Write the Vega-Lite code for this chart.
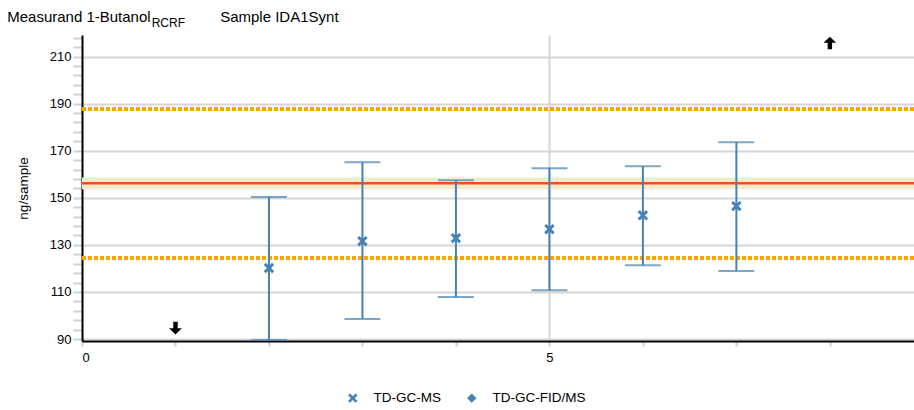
{
  "$schema": "https://vega.github.io/schema/vega-lite/v6.json",
  "width": 832,
  "height": 306,
  "autosize": {"type": "none"},
  "padding": {"left": 82, "top": 35, "right": 0, "bottom": 69},
  "background": "white",
  "config": {
    "view": {"stroke": null},
    "font": "Liberation Sans",
    "axis": {"labelFont": "Liberation Sans", "titleFont": "Liberation Sans", "labelColor": "#000", "titleColor": "#000", "labelFontSize": 13, "labelOverlap": false}
  },
  "datasets": {
    "points": [
      {"x": 2, "value": 121.0, "low": 90.4, "high": 151.2, "method": "TD-GC-MS"},
      {"x": 3, "value": 132.4, "low": 99.3, "high": 165.9, "method": "TD-GC-MS"},
      {"x": 4, "value": 133.7, "low": 108.7, "high": 158.3, "method": "TD-GC-MS"},
      {"x": 5, "value": 137.5, "low": 111.6, "high": 163.4, "method": "TD-GC-MS"},
      {"x": 6, "value": 143.4, "low": 122.2, "high": 164.2, "method": "TD-GC-MS"},
      {"x": 7, "value": 147.3, "low": 119.7, "high": 174.4, "method": "TD-GC-MS"}
    ],
    "refs": [{"ref": 157.0, "bandLow": 154.5, "bandHigh": 159.5, "limLow": 125.3, "limHigh": 188.6}],
    "arrows": [
      {"x": 1, "y": 95.5, "dir": "down"},
      {"x": 8, "y": 216.6, "dir": "up"}
    ],
    "titles": [
      {"part": "main", "text": "Measurand 1-Butanol"},
      {"part": "sub", "text": "RCRF"},
      {"part": "sample", "text": "Sample IDA1Synt"}
    ]
  },
  "layer": [
    {
      "data": {"name": "refs"},
      "mark": {"type": "rect", "color": "#f5ebcc"},
      "encoding": {
        "y": {"field": "bandLow", "type": "quantitative", "scale": {"domain": [90, 220], "nice": false, "zero": false},
          "axis": {
            "values": [90,94,98,102,106,110,114,118,122,126,130,134,138,142,146,150,154,158,162,166,170,174,178,182,186,190,194,198,202,206,210,214,218],
            "tickCount": 100,
            "labelExpr": "(datum.value - 90) % 20 == 0 ? datum.label : ''",
            "format": "d",
            "labelOverlap": false,
            "grid": true,
            "gridColor": "#d6d6d6",
            "gridWidth": 2,
            "gridOpacity": {"condition": {"test": "(datum.value - 90) % 20 == 0", "value": 1}, "value": 0},
            "tickColor": "#cfcfcf",
            "tickSize": 9,
            "tickWidth": 2,
            "tickOffset": -2,
            "domainColor": "#000",
            "domainWidth": 2,
            "labelPadding": 2,
            "title": "ng/sample",
            "titleFontSize": 13.5,
            "titleFontWeight": "normal",
            "titlePadding": 19
          }},
        "y2": {"field": "bandHigh"},
        "x": {"datum": 0, "type": "quantitative", "scale": {"domain": [0, 8.9], "nice": false, "zero": false},
          "axis": {
            "values": [0,1,2,3,4,5,6,7,8],
            "tickCount": 100,
            "labelExpr": "datum.value % 5 == 0 ? datum.label : ''",
            "format": "d",
            "labelOverlap": false,
            "grid": true,
            "gridColor": "#d6d6d6",
            "gridWidth": 2,
            "gridOpacity": {"condition": {"test": "datum.value == 5", "value": 1}, "value": 0},
            "tickColor": "#cfcfcf",
            "tickSize": 5,
            "tickWidth": 2,
            "domainColor": "#000",
            "domainWidth": 2,
            "labelPadding": 5,
            "title": null
          }},
        "x2": {"datum": 8.9}
      }
    },
    {
      "data": {"name": "refs"},
      "mark": {"type": "rule", "color": "#ff4a12", "strokeWidth": 2.5},
      "encoding": {"y": {"field": "ref", "type": "quantitative"}}
    },
    {
      "data": {"name": "refs"},
      "mark": {"type": "rule", "color": "#ffa500", "strokeWidth": 4, "strokeDash": [4, 2]},
      "encoding": {"y": {"field": "limLow", "type": "quantitative"}}
    },
    {
      "data": {"name": "refs"},
      "mark": {"type": "rule", "color": "#ffa500", "strokeWidth": 4, "strokeDash": [4, 2]},
      "encoding": {"y": {"field": "limHigh", "type": "quantitative"}}
    },
    {
      "data": {"name": "points"},
      "mark": {"type": "rule", "color": "#4682b4", "strokeWidth": 2},
      "encoding": {
        "x": {"field": "x", "type": "quantitative"},
        "y": {"field": "low", "type": "quantitative"},
        "y2": {"field": "high"}
      }
    },
    {
      "data": {"name": "points"},
      "mark": {"type": "tick", "color": "#4682b4", "thickness": 2, "size": 36, "orient": "horizontal"},
      "encoding": {
        "x": {"field": "x", "type": "quantitative"},
        "y": {"field": "low", "type": "quantitative"}
      }
    },
    {
      "data": {"name": "points"},
      "mark": {"type": "tick", "color": "#4682b4", "thickness": 2, "size": 36, "orient": "horizontal"},
      "encoding": {
        "x": {"field": "x", "type": "quantitative"},
        "y": {"field": "high", "type": "quantitative"}
      }
    },
    {
      "data": {"name": "points"},
      "mark": {"type": "point", "filled": true, "color": "#4682b4", "opacity": 1, "size": 110},
      "encoding": {
        "x": {"field": "x", "type": "quantitative"},
        "y": {"field": "value", "type": "quantitative"},
        "shape": {"field": "method", "type": "nominal",
          "scale": {"domain": ["TD-GC-MS", "TD-GC-FID/MS"], "range": ["M-1,-0.6 L-0.6,-1 L0,-0.4 L0.6,-1 L1,-0.6 L0.4,0 L1,0.6 L0.6,1 L0,0.4 L-0.6,1 L-1,0.6 L-0.4,0 Z", "diamond"]},
          "legend": {
            "title": null,
            "orient": "none",
            "direction": "horizontal",
            "legendX": 264,
            "legendY": 356,
            "labelFontSize": 13.5,
            "labelColor": "#000",
            "labelFont": "Liberation Sans",
            "symbolSize": 90,
            "symbolFillColor": "#4682b4",
            "symbolStrokeColor": "#4682b4",
            "symbolStrokeWidth": 0,
            "columnPadding": 24,
            "labelOffset": 14
          }}
      }
    },
    {
      "data": {"name": "arrows"},
      "transform": [{"filter": "datum.dir == 'up'"}],
      "mark": {"type": "point", "filled": true, "color": "#000", "opacity": 1, "size": 160, "shape": "M0,-1 L1,-0.05 L0.35,-0.05 L0.35,1 L-0.35,1 L-0.35,-0.05 L-1,-0.05 Z"},
      "encoding": {
        "x": {"field": "x", "type": "quantitative"},
        "y": {"field": "y", "type": "quantitative"}
      }
    },
    {
      "data": {"name": "arrows"},
      "transform": [{"filter": "datum.dir == 'down'"}],
      "mark": {"type": "point", "filled": true, "color": "#000", "opacity": 1, "size": 160, "shape": "M0,1 L1,0.05 L0.35,0.05 L0.35,-1 L-0.35,-1 L-0.35,0.05 L-1,0.05 Z"},
      "encoding": {
        "x": {"field": "x", "type": "quantitative"},
        "y": {"field": "y", "type": "quantitative"}
      }
    },
    {
      "data": {"name": "titles"},
      "transform": [{"filter": "datum.part == 'main'"}],
      "mark": {"type": "text", "align": "left", "baseline": "alphabetic", "fontSize": 15, "color": "#000", "font": "Liberation Sans"},
      "encoding": {
        "x": {"datum": -0.8, "type": "quantitative"},
        "y": {"datum": 225.6, "type": "quantitative"},
        "text": {"field": "text"}
      }
    },
    {
      "data": {"name": "titles"},
      "transform": [{"filter": "datum.part == 'sub'"}],
      "mark": {"type": "text", "align": "left", "baseline": "alphabetic", "fontSize": 12, "color": "#000", "font": "Liberation Sans"},
      "encoding": {
        "x": {"datum": 0.745, "type": "quantitative"},
        "y": {"datum": 223.3, "type": "quantitative"},
        "text": {"field": "text"}
      }
    },
    {
      "data": {"name": "titles"},
      "transform": [{"filter": "datum.part == 'sample'"}],
      "mark": {"type": "text", "align": "left", "baseline": "alphabetic", "fontSize": 15, "color": "#000", "font": "Liberation Sans"},
      "encoding": {
        "x": {"datum": 1.478, "type": "quantitative"},
        "y": {"datum": 225.6, "type": "quantitative"},
        "text": {"field": "text"}
      }
    }
  ]
}
